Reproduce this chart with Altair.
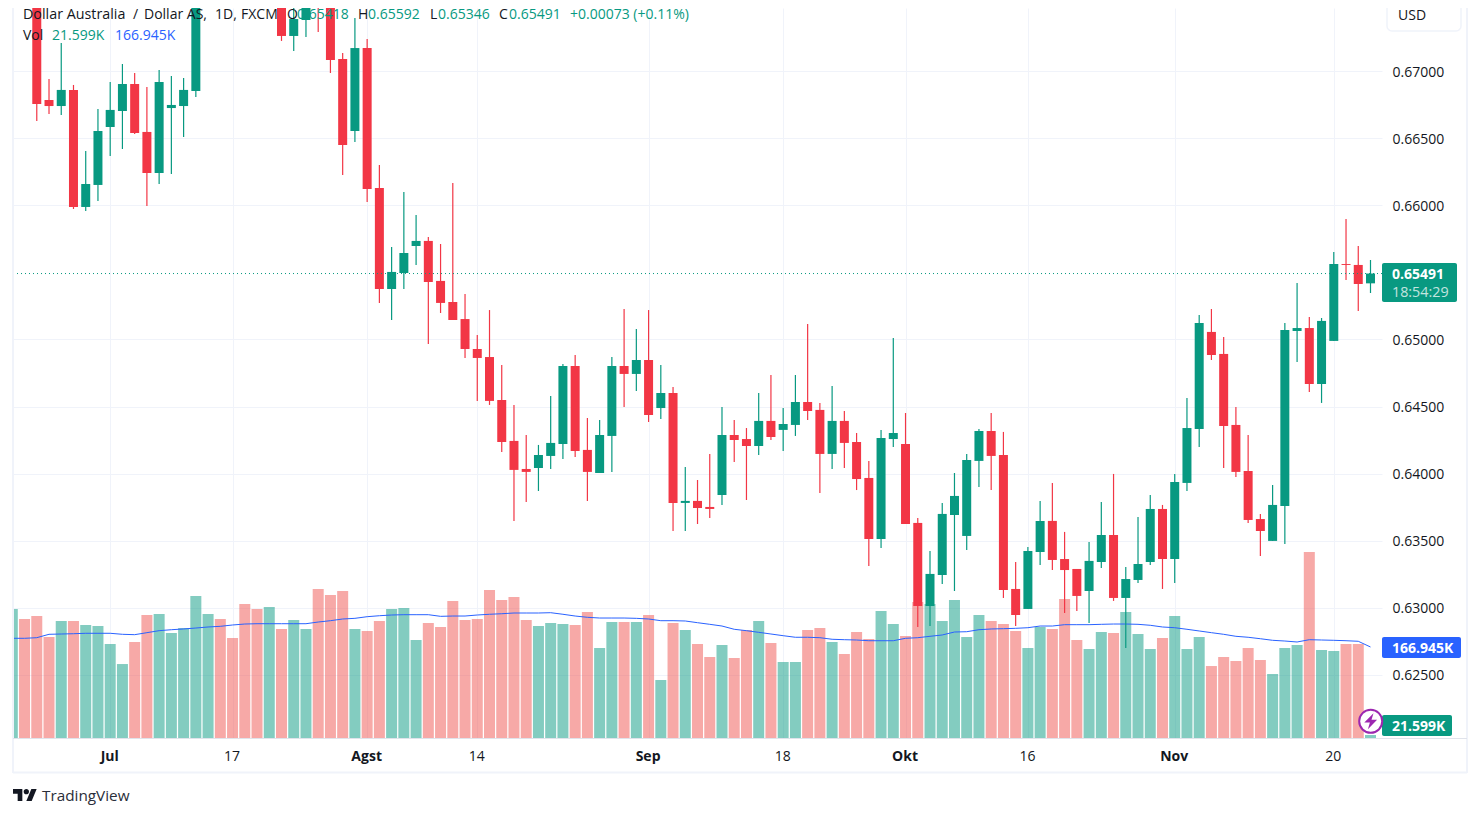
import altair as alt
import pandas as pd

open_e5 = [67900,68000,67900,66784,66739,66859,65987,66151,66583,66702,66903,66546,66240,66724,66739,66851,
67900,68250,68100,67900,67800,67650,67650,67261,67380,67850,67550,67089,66553,67171,66128,65376,65495,65696,
65734,65436,65279,65152,64929,64869,64549,64244,64035,64042,64132,64221,64802,64177,64005,64281,64802,64743,
64847,64489,64601,63782,63797,63752,63841,64288,64258,64206,64393,64326,64363,64534,64475,64147,64393,64236,
63968,63513,64258,64221,63633,63014,63245,63692,63536,64095,64318,64139,63141,62992,63417,63648,63364,63290,
63126,63342,63543,63074,63208,63342,63737,63364,63931,64333,65056,64892,64363,64020,63662,63499,63759,65063,
65085,64668,64989,65562,65555,65418]
high_e5 = [68100,68100,68000,66940,67209,66896,66404,66717,66918,67052,66985,66881,67007,66963,66948,68100,
68450,68400,68300,68050,67900,68050,67750,67600,67750,67950,67700,67134,67395,67238,66300,65689,66099,65927,
65763,65711,66166,65339,65033,65219,64810,64512,64288,64214,64579,64817,64884,64415,64400,64869,65227,65078,
65219,64810,64646,64050,63953,64147,64497,64400,64340,64601,64735,64489,64735,65115,64527,64653,64467,64303,
64095,64326,65011,64452,63670,63424,63782,64005,64147,64333,64452,64311,63342,63454,63797,63931,63566,63290,
63491,63789,63998,63305,63677,63841,63767,63998,64564,65182,65227,65018,64497,64288,63700,63916,65123,65421,
65167,65160,65652,65897,65696,65592]
low_e5 = [67800,67507,66628,66680,66672,65972,65957,66032,66367,66419,66531,65994,66158,66233,66508,66806,
67700,67900,67700,67600,67507,67550,67224,67149,67253,67291,66985,66225,66471,66024,65272,65145,65376,65555,
64966,65197,65145,64862,64542,64512,64162,63648,63789,63871,64035,64109,64124,63797,64005,64013,64497,64616,
64385,64407,63573,63573,63625,63670,63767,64087,63804,64139,64251,64169,64281,64400,63856,64035,64042,63878,
63312,63446,64199,63625,62858,62865,63178,63126,63431,63901,63878,63074,62865,62992,63320,63282,62962,62977,
62888,63297,63052,62701,63186,63320,63141,63186,63871,64199,64847,64042,63975,63633,63387,63499,63476,64832,
64609,64527,64989,65443,65212,65346]
close_e5 = [68050,67600,66754,66739,66859,65987,66158,66553,66710,66903,66538,66240,66918,66747,66859,68000,
68300,68050,67850,67750,67650,67900,67261,67387,67600,67550,67082,66449,67171,66121,65376,65503,65644,65734,
65428,65272,65145,64929,64862,64542,64236,64028,64013,64139,64229,64802,64169,64013,64288,64802,64743,64847,
64437,64601,63782,63797,63744,63737,64288,64251,64206,64393,64273,64370,64534,64467,64147,64393,64229,63960,
63513,64266,64303,63625,63014,63253,63700,63834,64102,64318,64132,63134,62947,63424,63648,63357,63282,63089,
63350,63543,63074,63215,63327,63737,63364,63938,64340,65123,64884,64355,64013,63655,63573,63767,65071,65085,
64668,65138,65562,65555,65413,65491]
volume_k = [229.7,213.2,218.1,183.5,209.9,209.9,203.3,201.6,171.9,138.8,175.2,219.8,221.4,190.1,198.3,251.2,
221.4,213.2,181.8,238,229.7,233,196.7,211.5,196.7,262.7,252.8,259.4,196.7,193.4,209.9,229.7,231.4,178.5,
206.6,200,242.9,211.5,213.2,261.1,244.6,249.5,211.5,201.6,206.6,204.9,203.3,224.8,165.3,208.2,208.2,208.2,
219.8,112.4,206.6,195,171.9,150.4,170.2,148.8,195,209.9,173.5,142.2,142.2,195,198.3,175.2,155.4,191.7,
180.1,226.4,204.9,185.1,241.3,238,209.9,244.6,183.5,219.8,209.9,204.9,193.4,165.3,200,196.7,246.2,178.5,
163.6,191.7,190.1,224.8,188.4,163.6,181.8,218.1,163.6,183.5,135.5,150.4,143.8,165.3,145.5,122.3,165.3,170.2,
323.9,162,160.3,171.9,171.9,21.599]
volume_ma_k = [181.3,181.3,182.3,187.9,188.4,188.9,189.6,189.6,189.6,187.9,187.3,190.6,193.9,195.5,196.7,198.3,
200,201.1,203.3,204.9,205.4,205.4,205.4,205.4,205.4,208.2,210.4,213.2,214.3,217,218.6,219.8,220.3,220.3,
220.3,217.6,218.1,218.1,219.8,221,221.9,223.1,223.1,223.1,223.6,221,218.1,216,214.8,214.8,214.8,214.3,
213.2,210.4,210.4,209.9,207.1,204.4,201.6,196.2,193.9,191.2,188.4,185.6,183,183,182.3,179.7,179,178.5,
177.3,177.3,177.3,181.3,182.3,184.6,186.8,191.7,192.2,195.5,196.7,197.2,197.8,198.8,201.6,201.6,203.8,203.8,
203.8,204.4,204.9,204.9,204.4,202.8,200,198.8,196.2,193.4,190.6,187.9,184.6,183,180.6,178,176.8,175.2,
179,178.5,178,177.3,176.4,166.945]

price_ticks = [0.625,0.63,0.635,0.64,0.645,0.65,0.66,0.665,0.67]
time_ticks = [8,18,29,38,52,63,73,83,95,108]
time_labels = ["Jul","17","Agst","14","Sep","18","Okt","16","Nov","20"]
month_ticks = [8,29,52,73,95]

FONT = "Open Sans"
INK = "#131722"
UP = "#089981"
DOWN = "#F23645"
BLUE = "#2962FF"
FRAME = "#F0F3FA"
GRID = "#F0F3FA"

W, H = 1369, 730
X_DOMAIN = [0.057, 111.94]
Y_DOMAIN = [0.620306, 0.674694]
V_DOMAIN = [16.6, 1222.6]

df = pd.DataFrame({
    "i": range(len(open_e5)),
    "open": [v / 1e5 for v in open_e5],
    "high": [v / 1e5 for v in high_e5],
    "low": [v / 1e5 for v in low_e5],
    "close": [v / 1e5 for v in close_e5],
    "vol": volume_k,
    "ma": volume_ma_k,
})
df["dir"] = ["up" if c >= o else "down" for o, c in zip(df["open"], df["close"])]

one = pd.DataFrame({"a": [0]})
xs = alt.Scale(domain=X_DOMAIN, nice=False, zero=False, padding=0)
ys = alt.Scale(domain=Y_DOMAIN, nice=False, zero=False, padding=0)
vs = alt.Scale(domain=V_DOMAIN, nice=False, zero=False, padding=0)
label_map = "{" + ",".join(f"{t}:'{l}'" for t, l in zip(time_ticks, time_labels)) + "}[datum.value]"
bold_test = "indexof([" + ",".join(map(str, month_ticks)) + "], datum.value) >= 0"

x_axis = alt.Axis(
    values=time_ticks, labelExpr=label_map, title=None, grid=True, gridColor=GRID, gridWidth=1,
    domain=False, ticks=False, labelPadding=11, labelOffset=-1, labelFontSize=14, labelColor=INK, labelFont=FONT,
    labelOverlap=False, labelFlush=False,
    labelFontWeight={"condition": {"test": bold_test, "value": 700}, "value": 400},
)
y_axis = alt.Axis(
    values=price_ticks, format=".5f", orient="right", title=None, grid=True, gridColor=GRID, gridWidth=1,
    domain=False, ticks=False, labelPadding=10, labelOffset=1, labelFontSize=14, labelColor=INK, labelFont=FONT,
    labelOverlap=False, labelFlush=False,
)
X = alt.X("i:Q", scale=xs, axis=x_axis)

volume = alt.Chart(df).mark_bar(width=11, clip=True, opacity=0.5).encode(
    x=X,
    y=alt.Y("vol:Q", scale=vs, axis=None, stack=None),
    color=alt.Color("dir:N", scale=alt.Scale(domain=["up", "down"], range=[UP, "#EF5350"]), legend=None),
)
ma = alt.Chart(df).mark_line(color=BLUE, strokeWidth=1, clip=True).encode(
    x=X, y=alt.Y("ma:Q", scale=vs, axis=None),
)
cscale = alt.Scale(domain=["up", "down"], range=[UP, DOWN])
wick = alt.Chart(df).mark_rule(size=1.2, clip=True).encode(
    x=X,
    y=alt.Y("low:Q", scale=ys, axis=y_axis),
    y2="high:Q",
    color=alt.Color("dir:N", scale=cscale, legend=None),
)
body = alt.Chart(df).mark_bar(width=9, clip=True).encode(
    x=X,
    y=alt.Y("open:Q", scale=ys, axis=None),
    y2="close:Q",
    color=alt.Color("dir:N", scale=cscale, legend=None),
)
last_line = alt.Chart(one).mark_rule(color=UP, size=1, strokeDash=[1, 3]).encode(
    y=alt.Y(datum=0.65491, scale=ys, axis=None),
)

OX, OY = 13, 8  # page position of the plot area's corner
DY = 1  # optical centring of middle-baseline text


def page(px, py):
    return alt.value(px - OX), alt.value(py - OY)


def text(s, px, py, color=INK, size=14, weight=400, opacity=1):
    x, y = page(px, py + DY)
    return alt.Chart(one).mark_text(
        align="left", baseline="middle", font=FONT, fontSize=size, fontWeight=weight,
        color=color, opacity=opacity,
    ).encode(x=x, y=y, text=alt.value(s))


def line(x1, y1, x2, y2, color=FRAME, size=2):
    return alt.Chart(one).mark_rule(color=color, size=size).encode(
        x=alt.value(x1 - OX), x2=alt.value(x2 - OX), y=alt.value(y1 - OY), y2=alt.value(y2 - OY)
    )


def box(x1, y1, x2, y2, fill, stroke=None, radius=2):
    kw = dict(fill=fill, cornerRadius=radius)
    if stroke:
        kw.update(stroke=stroke, strokeWidth=1.5)
    return alt.Chart(one).mark_rect(**kw).encode(
        x=alt.value(x1 - OX), x2=alt.value(x2 - OX), y=alt.value(y1 - OY), y2=alt.value(y2 - OY)
    )


def glyph(path, px, py, size, fill, stroke=None, sw=0):
    x, y = page(px, py)
    kw = dict(shape=path, size=size, fill=fill, opacity=1, fillOpacity=1)
    if stroke:
        kw.update(stroke=stroke, strokeWidth=sw)
    else:
        kw.update(strokeWidth=0)
    return alt.Chart(one).mark_point(**kw).encode(x=x, y=y)


TV_LOGO = ("M-0.222 0.5H-0.611V-0.111H-1V-0.5H-0.222Z"
           "M0.556 0.5H0.111L0.528 -0.5H0.972Z"
           "M-0.111 -0.278a0.222 0.222 0 1 0 0.444 0a0.222 0.222 0 1 0 -0.444 0Z")
BOLT = "M0.35 -1L-0.8 0.15H-0.1L-0.35 1L0.8 -0.2H0.1Z"

overlays = [
    line(13, 0, 13, 773), line(1467, 0, 1467, 773), line(13, 772.5, 1467, 772.5),
    line(13, 738.5, 1467, 738.5, "#E0E3EB", 1),
    box(1387, 0, 1461, 31, "#FFFFFF", FRAME, 5),
    text("USD", 1398, 15),
    text("Dollar Australia", 23, 14, INK, 14.3), text("/", 133, 14), text("Dollar AS,", 144, 14),
    text("1D,", 215, 14), text("FXCM", 241, 14),
    text("O", 287, 14), text("0.65418", 297, 14, UP),
    text("H", 358, 14), text("0.65592", 368, 14, UP),
    text("L", 430, 14), text("0.65346", 438, 14, UP),
    text("C", 499, 14), text("0.65491", 509, 14, UP),
    text("+0.00073 (+0.11%)", 570, 14, UP),
    text("Vol", 23, 35), text("21.599K", 52, 35, UP), text("166.945K", 115, 35, BLUE),
    box(1382, 263, 1457, 302, UP),
    text("0.65491", 1392, 274, "#FFFFFF", 14, 700),
    text("18:54:29", 1392, 292, "#FFFFFF", 14.3, 400, 0.75),
    box(1382, 637, 1461, 658, BLUE),
    text("166.945K", 1392, 648, "#FFFFFF", 14, 700),
    box(1382, 715, 1452, 736, UP),
    text("21.599K", 1392, 726, "#FFFFFF", 14, 700),
    glyph("circle", 1370.7, 721.3, 530, "#FFFFFF", "#9C27B0", 2),
    glyph(BOLT, 1370.7, 721.3, 256, "#9C27B0"),
    glyph(TV_LOGO, 25, 795, 576, INK),
    text("TradingView", 42, 795, "#2A2E39", 15.3),
]

chart = alt.layer(volume, ma, wick, body, last_line, *overlays).resolve_scale(
    y="independent", color="independent"
).properties(
    width=W, height=H,
    padding={"left": 5, "top": 0, "right": 90, "bottom": 70},
    autosize=alt.AutoSizeParams(type="none"),
    background="#FFFFFF",
).configure_view(stroke=None)

chart.save("out.html", embed_options={"renderer": "svg", "actions": False})
